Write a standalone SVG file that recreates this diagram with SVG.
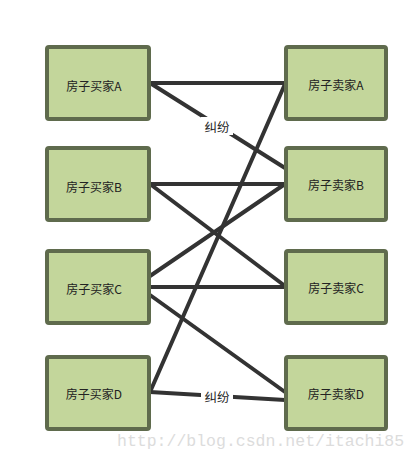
<svg xmlns="http://www.w3.org/2000/svg" width="418" height="460" viewBox="0 0 418 460">
<style>
.box{fill:#c3d69b;stroke:#5f6b4d;stroke-width:4}
.t{font-family:"Noto Sans CJK SC","Liberation Serif",sans-serif;font-size:12px;fill:#222;text-anchor:middle;dominant-baseline:central}
.ln{stroke:#333;stroke-width:4;fill:none;stroke-linecap:round}
.lbl{font-family:"Noto Sans CJK SC",sans-serif;font-size:12.5px;fill:#222;text-anchor:middle;dominant-baseline:central}
.wm{font-family:"Liberation Mono",monospace;font-size:16.5px;fill:#dcdcdc}
</style>
<rect width="418" height="460" fill="#fff"/>
<g id="connectors">
<line class="ln" x1="150" y1="83" x2="285" y2="83"/>
<line class="ln" x1="150" y1="83" x2="285" y2="168"/>
<line class="ln" x1="150" y1="184" x2="285" y2="184"/>
<line class="ln" x1="150" y1="184" x2="285" y2="286"/>
<line class="ln" x1="150" y1="276" x2="285" y2="184"/>
<line class="ln" x1="150" y1="287" x2="285" y2="287"/>
<line class="ln" x1="150" y1="295" x2="285" y2="392"/>
<line class="ln" x1="150" y1="392" x2="285" y2="84"/>
<line class="ln" x1="150" y1="392" x2="285" y2="400"/>
<rect x="201" y="117" width="32" height="18" fill="#fff"/>
<text class="lbl" x="217" y="126">纠纷</text>
<rect x="201" y="388" width="32" height="18" fill="#fff"/>
<text class="lbl" x="217" y="396">纠纷</text>
</g>
<g id="buyerA"><rect class="box" x="47" y="47" width="102" height="72" rx="2"/><text class="t" x="94" y="85">房子买家A</text></g>
<g id="buyerB"><rect class="box" x="47" y="148" width="102" height="72" rx="2"/><text class="t" x="94" y="186">房子买家B</text></g>
<g id="buyerC"><rect class="box" x="47" y="251" width="102" height="72" rx="2"/><text class="t" x="94" y="288">房子买家C</text></g>
<g id="buyerD"><rect class="box" x="47" y="357" width="102" height="72" rx="2"/><text class="t" x="94" y="393">房子买家D</text></g>
<g id="sellerA"><rect class="box" x="286" y="47" width="100" height="72" rx="2"/><text class="t" x="336" y="84">房子卖家A</text></g>
<g id="sellerB"><rect class="box" x="286" y="148" width="100" height="72" rx="2"/><text class="t" x="336" y="184">房子卖家B</text></g>
<g id="sellerC"><rect class="box" x="286" y="251" width="100" height="72" rx="2"/><text class="t" x="336" y="287">房子卖家C</text></g>
<g id="sellerD"><rect class="box" x="286" y="357" width="100" height="72" rx="2"/><text class="t" x="336" y="393">房子卖家D</text></g>
<text class="wm" x="117" y="446">http://blog.csdn.net/itachi85</text>
</svg>
